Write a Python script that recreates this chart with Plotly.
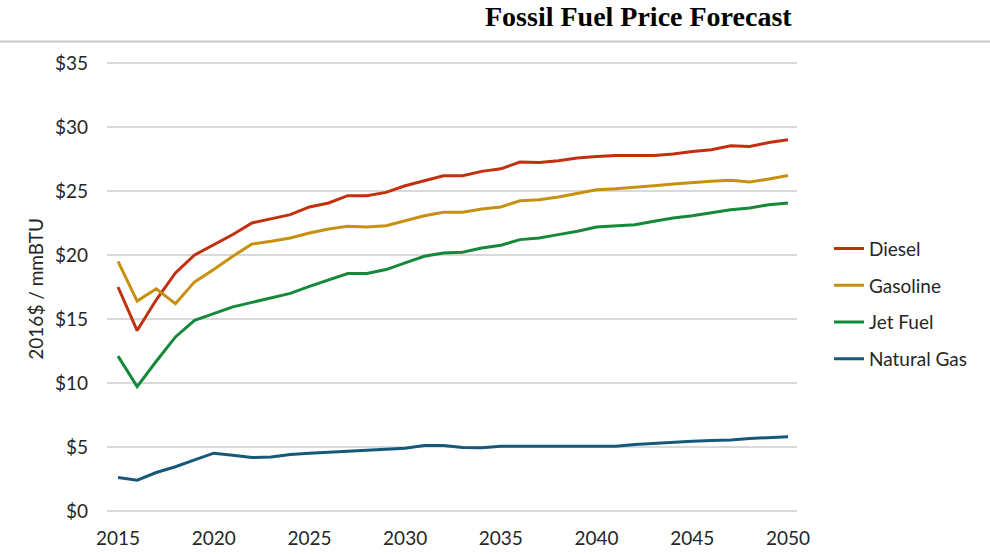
import plotly.graph_objects as go

years = list(range(2015, 2051))

diesel = [17.5, 14.1, 16.5, 18.6, 20.0, 20.8, 21.6, 22.5, 22.8, 23.15, 23.75, 24.06,
          24.63, 24.63, 24.89, 25.41, 25.8, 26.19, 26.19, 26.53, 26.73, 27.26, 27.23, 27.36,
          27.57, 27.7, 27.77, 27.77, 27.77, 27.88, 28.08, 28.22, 28.53, 28.47, 28.78, 29.0]

gasoline = [19.5, 16.4, 17.36, 16.2, 17.9, 18.86, 19.9, 20.86, 21.07, 21.33, 21.72, 22.03,
            22.24, 22.19, 22.29, 22.7, 23.07, 23.33, 23.33, 23.59, 23.75, 24.24, 24.32, 24.53,
            24.84, 25.1, 25.18, 25.28, 25.41, 25.54, 25.67, 25.75, 25.83, 25.7, 25.93, 26.21]

jet_fuel = [12.1, 9.72, 11.7, 13.6, 14.9, 15.43, 15.95, 16.3, 16.65, 17.0, 17.55, 18.08,
            18.55, 18.55, 18.86, 19.38, 19.9, 20.16, 20.21, 20.55, 20.76, 21.2, 21.33, 21.59,
            21.85, 22.19, 22.29, 22.37, 22.63, 22.89, 23.07, 23.28, 23.54, 23.67, 23.93, 24.06]

natural_gas = [2.62, 2.41, 3.01, 3.46, 4.0, 4.52, 4.36, 4.18, 4.23, 4.42, 4.52, 4.6,
               4.7, 4.78, 4.86, 4.91, 5.12, 5.12, 4.96, 4.94, 5.07, 5.07, 5.07, 5.07,
               5.07, 5.07, 5.07, 5.2, 5.3, 5.38, 5.46, 5.51, 5.56, 5.67, 5.72, 5.8]

series_names = ["Diesel", "Gasoline", "Jet Fuel", "Natural Gas"]
series_values = [diesel, gasoline, jet_fuel, natural_gas]
series_colors = ["#C2300F", "#C8900F", "#15893A", "#17587A"]

x_ticks = [2015, 2020, 2025, 2030, 2035, 2040, 2045, 2050]
y_ticks = [0, 5, 10, 15, 20, 25, 30, 35]
y_tick_labels = ["$" + str(v) for v in y_ticks]

title_text = "Fossil Fuel Price Forecast"
y_title = "2016$ / mmBTU"

W, H = 990, 554
YPAD = 0.15
PX_PER_DOLLAR = (511.3 - 63.3) / 35.0
L = 107
R = W - 797
T = 63.3 - YPAD * PX_PER_DOLLAR
B = H - (511.3 + YPAD * PX_PER_DOLLAR)
pw, ph = W - L - R, H - T - B

def px(xp):
    return (xp - L) / pw

def py(yp):
    return (H - B - yp) / ph

fig = go.Figure()
for name, vals, col in zip(series_names, series_values, series_colors):
    fig.add_trace(go.Scatter(x=years, y=vals, mode="lines", name=name,
                             legendgroup=name,
                             line=dict(color=col, width=3)))

font_family = "Lato, 'Liberation Sans', sans-serif"
txt_col = "#262626"

fig.update_layout(
    width=W, height=H,
    margin=dict(l=L, r=R, t=T, b=B, autoexpand=False),
    paper_bgcolor="white", plot_bgcolor="white",
    font=dict(family=font_family, size=19, color=txt_col),
    showlegend=True,
    legend=dict(x=px(829), y=py(230), xanchor="left", yanchor="top",
                traceorder="grouped", tracegroupgap=9,
                font=dict(size=19, color=txt_col),
                itemwidth=30, bgcolor="rgba(0,0,0,0)"),
    xaxis=dict(range=[2014.425, 2050.47], tickmode="array", tickvals=x_ticks,
               ticktext=[str(t) for t in x_ticks], showgrid=False, zeroline=False,
               showline=False, ticks="", ticklabelstandoff=12,
               tickfont=dict(size=19, color=txt_col)),
    yaxis=dict(range=[-YPAD, 35 + YPAD], tickmode="array", tickvals=y_ticks,
               ticktext=y_tick_labels,
               showgrid=True, gridcolor="#D9D9D9", gridwidth=1.5, zeroline=False,
               showline=False, ticks="", ticklabelstandoff=18,
               tickfont=dict(size=19, color=txt_col)),
    shapes=[dict(type="line", xref="paper", yref="paper", x0=px(0), x1=px(W),
                 y0=py(42), y1=py(42), line=dict(color="#C8C8C8", width=2))],
    annotations=[
        dict(text="<b>" + title_text + "</b>", xref="paper", yref="paper",
             x=px(794), y=py(17), xanchor="right", yanchor="middle", showarrow=False,
             font=dict(family="'Liberation Serif', 'DejaVu Serif', serif", size=28,
                       color="#000000")),
        dict(text=y_title, xref="paper", yref="paper", x=px(36), y=py(289),
             xanchor="center", yanchor="middle", textangle=-90, showarrow=False,
             font=dict(size=19, color=txt_col)),
    ],
)

fig.write_html("out.html", config={"displayModeBar": False},
               post_script="document.body.style.margin='0';")
